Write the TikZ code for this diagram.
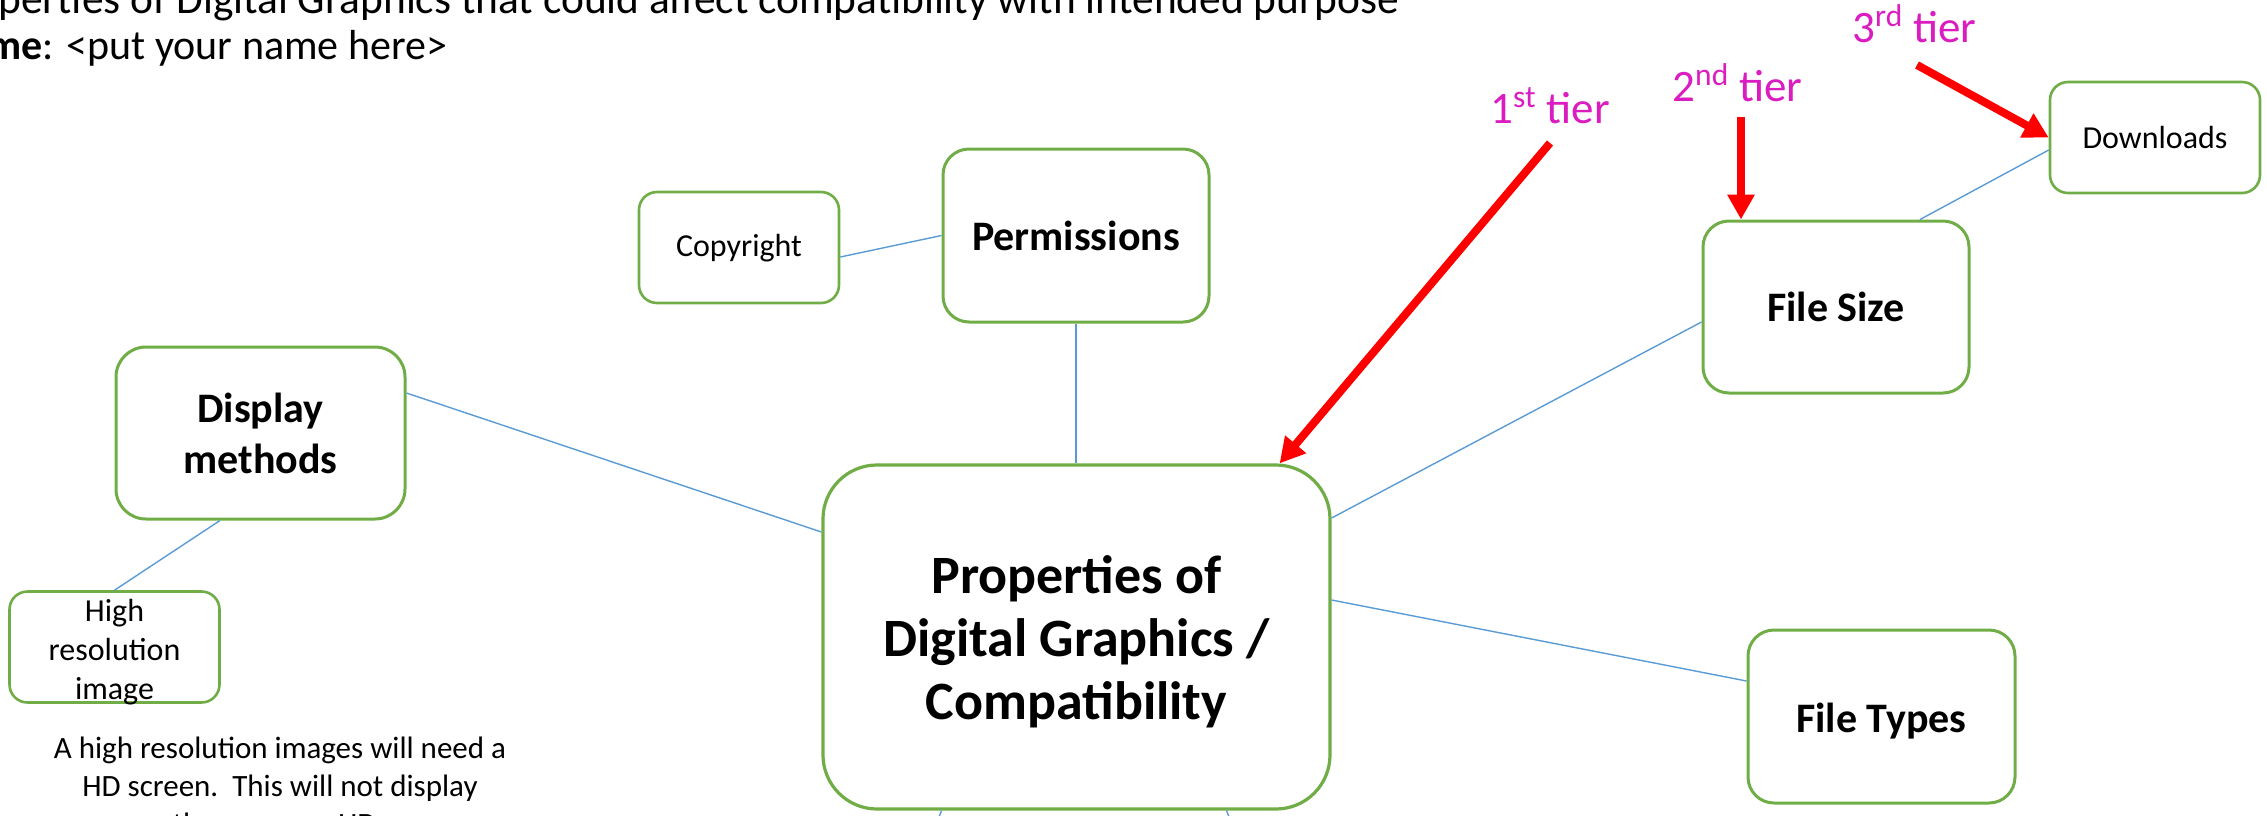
\documentclass[tikz,border=0pt]{standalone}
\usepackage{fontspec}
\setmainfont{Carlito}
\usetikzlibrary{arrows.meta}
\definecolor{boxgreen}{HTML}{70AD47}
\definecolor{linkblue}{HTML}{5B9BD5}
\definecolor{tierpink}{RGB}{218,28,192}
\tikzset{
  hub/.style={draw=boxgreen, line width=1.6pt, rounded corners=27pt, align=center,
    minimum width=253.5pt, minimum height=172pt, font=\bfseries\fontsize{27}{31.5}\selectfont},
  branch/.style={draw=boxgreen, line width=1.5pt, rounded corners=13pt, align=center,
    font=\bfseries\fontsize{21}{25.5}\selectfont},
  leaf/.style={draw=boxgreen, line width=1.3pt, rounded corners=9pt, align=center,
    minimum width=105pt, minimum height=55.5pt, font=\fontsize{16}{19.5}\selectfont},
  link/.style={draw=linkblue, line width=0.7pt},
  tierarrow/.style={draw=red, line width=4pt, -{Triangle[length=12.5pt,width=13pt]}},
  tierlabel/.style={text=tierpink, anchor=base west, inner sep=0pt, font=\fontsize{22.5}{27}\selectfont},
  heading/.style={anchor=base west, inner sep=0pt, font=\fontsize{21}{23}\selectfont}
}
\begin{document}
\begin{tikzpicture}[x=0.5pt,y=-0.5pt]
  \useasboundingbox (0,0) rectangle (2267,815);
  \clip (0,0) rectangle (2267,815);
  \node[heading, font=\fontsize{21.7}{23}\selectfont] (head) at (-2,13) {perties of Digital Graphics that could affect compatibility with intended purpose};
  \node[heading] (who) at (-13,59) {\textbf{me}: <put your name here>};

  \node[hub] (hub) at (1076.5,637) {\rule{0pt}{24pt}Properties of\\Digital Graphics /\\Compatibility};
  \node[branch, minimum width=133pt, minimum height=86.5pt] (perm) at (1076,235.5) {Permissions};
  \node[leaf, minimum width=100pt, text depth=2pt] (copy) at (739,247.5) {Copyright};
  \node[branch, minimum width=144.5pt, minimum height=86pt, rounded corners=15pt] (disp) at (260.5,433) {Display\\methods};
  \node[leaf, inner ysep=0pt, text depth=0pt] (hires) at (114.5,647) {\rule{0pt}{13pt}High\\resolution\\image};
  \node[branch, minimum width=133pt, minimum height=86pt] (size) at (1836,307) {File Size};
  \node[leaf, minimum width=105pt] (dl) at (2155,137.5) {Downloads};
  \node[branch, minimum width=133.5pt, minimum height=86.5pt, text height=20pt, text depth=4.5pt] (types) at (1881.5,716.5) {File Types};

  \node[anchor=base, align=center, inner sep=0pt, font=\fontsize{15.5}{18.8}\selectfont] (note) at (280,834)
    {A high resolution images will need a\\HD screen.\ \ This will not display\\correctly on a non- HD screen};

  \coordinate (low1) at (900,920);
  \coordinate (low2) at (1270,920);
  \begin{scope}[link]
    \draw ([yshift=-4.75pt]copy.east) to (perm.west);
    \draw (perm.south) to (perm.south |- hub.north);
    \draw ([yshift=20pt]disp.east) to ([yshift=52.5pt]hub.west);
    \draw ([xshift=-20.25pt]disp.south) to (hires.north);
    \draw ([yshift=59.5pt]hub.east) to ([yshift=-7.5pt]size.west);
    \draw ([xshift=42pt]size.north) to ([yshift=-6.25pt]dl.west);
    \draw ([yshift=18.5pt]hub.east) to ([yshift=17.75pt]types.west);
    \draw ([xshift=-67.5pt]hub.south) to (low1);
    \draw ([xshift=75pt]hub.south) to (low2);
  \end{scope}

  \node[tierlabel] (tier1) at (1490,123) {1\textsuperscript{st} tier};
  \node[tierlabel] (tier2) at (1672,101) {2\textsuperscript{nd} tier};
  \node[tierlabel] (tier3) at (1852,42) {3\textsuperscript{rd} tier};
  \coordinate (t1) at (1550,143);
  \coordinate (t2) at (1741,117);
  \coordinate (t3) at (1917,65);
  \draw[tierarrow] (t1) -- ([xshift=-26pt]hub.north east);
  \draw[tierarrow] (t2) -- ([xshift=-47.5pt]size.north);
  \draw[tierarrow] (t3) -- (dl.west);
\end{tikzpicture}
\end{document}
